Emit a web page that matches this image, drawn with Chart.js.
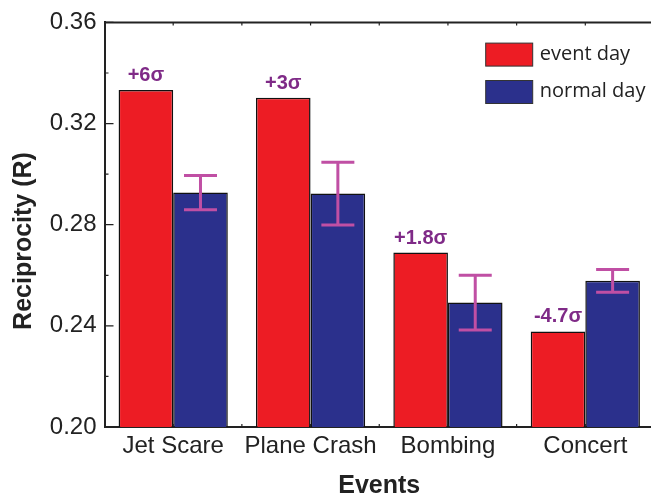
<!DOCTYPE html>
<html>
<head>
<meta charset="utf-8">
<script src="https://cdn.jsdelivr.net/npm/chart.js@4.4.0/dist/chart.umd.min.js"></script>
<style>
    html, body { margin: 0; padding: 0; background: #fff; overflow: hidden; }
    #wrap { width: 656px; height: 497px; }
</style>
</head>
<body>
<div id="wrap"><canvas id="reciprocity-chart"></canvas></div>
<script>
// data
const categories = ['Jet Scare', 'Plane Crash', 'Bombing', 'Concert'];
const eventDay = [0.3333, 0.3302, 0.2690, 0.2378];
const normalDay = [0.2927, 0.2923, 0.2492, 0.2578];
const normalErr = [0.0068, 0.0124, 0.0108, 0.0045];
const sigmaLabels = ['+6σ', '+3σ', '+1.8σ', '-4.7σ'];
const yMin = 0.20;
const yMax = 0.36;
const yStep = 0.04;

const AXIS_COLOR = '#222';

// error bars on the normal day bars
const errorBars = {
    id: 'errorBars',
    afterDatasetsDraw(chart) {
        const meta = chart.getDatasetMeta(1);
        const y = chart.scales.y;
        const ctx = chart.ctx;
        ctx.save();
        ctx.strokeStyle = '#C04FA4';
        ctx.lineWidth = 3;
        meta.data.forEach(function(bar, i) {
            const top = y.getPixelForValue(normalDay[i] + normalErr[i]);
            const bot = y.getPixelForValue(normalDay[i] - normalErr[i]);
            ctx.beginPath();
            ctx.moveTo(bar.x, top); ctx.lineTo(bar.x, bot);
            ctx.moveTo(bar.x - 16.5, top); ctx.lineTo(bar.x + 16.5, top);
            ctx.moveTo(bar.x - 16.5, bot); ctx.lineTo(bar.x + 16.5, bot);
            ctx.stroke();
        });
        ctx.restore();
    }
};

// sigma labels above the event day bars
const sigmaText = {
    id: 'sigmaText',
    afterDatasetsDraw(chart) {
        const meta = chart.getDatasetMeta(0);
        const ctx = chart.ctx;
        ctx.save();
        ctx.fillStyle = '#7F2A87';
        ctx.font = 'bold 20px "Liberation Sans", Arial, sans-serif';
        ctx.textAlign = 'center';
        ctx.textBaseline = 'alphabetic';
        meta.data.forEach(function(bar, i) {
            ctx.fillText(sigmaLabels[i], bar.x, bar.y - 9);
        });
        ctx.restore();
    }
};

// frame, inward ticks, legend and y title
const frame = {
    id: 'frame',
    afterDraw(chart) {
        const ctx = chart.ctx;
        const a = chart.chartArea;
        const x = chart.scales.x;
        const y = chart.scales.y;
        ctx.save();
        ctx.strokeStyle = AXIS_COLOR;
        ctx.lineWidth = 2;
        ctx.beginPath();
        ctx.moveTo(a.left, a.top); ctx.lineTo(a.right, a.top);
        ctx.stroke();

        ctx.lineWidth = 1.2;
        ctx.beginPath();
        y.ticks.forEach(function(t, i) {
            const py = y.getPixelForValue(t.value);
            ctx.moveTo(a.left, py); ctx.lineTo(a.left + 9, py);
            if (i < y.ticks.length - 1) {
                const my = y.getPixelForValue(t.value + yStep / 2);
                ctx.moveTo(a.left, my); ctx.lineTo(a.left + 4, my);
            }
        });
        const half = (x.getPixelForValue(1) - x.getPixelForValue(0)) / 2;
        categories.forEach(function(c, i) {
            const cx = x.getPixelForValue(i);
            [cx, cx + half].forEach(function(px) {
                ctx.moveTo(px, a.bottom); ctx.lineTo(px, a.bottom - 3);
                ctx.moveTo(px, a.top); ctx.lineTo(px, a.top + 3);
            });
        });
        ctx.stroke();

        // legend
        const bx = a.right - 168.3;
        ctx.font = '20px "Open Sans", sans-serif';
        ctx.textAlign = 'left';
        ctx.textBaseline = 'middle';
        chart.data.datasets.forEach(function(ds, i) {
            const by = a.top + 20.7 + i * 37.4;
            ctx.fillStyle = ds.backgroundColor;
            ctx.fillRect(bx, by, 47, 23);
            ctx.strokeStyle = '#333';
            ctx.lineWidth = 1;
            ctx.strokeRect(bx, by, 47, 23);
            ctx.fillStyle = '#222';
            ctx.fillText(ds.label, bx + 54, by + 11);
        });

        // y title
        ctx.translate(24, 241);
        ctx.rotate(-Math.PI / 2);
        ctx.font = 'bold 25px "Liberation Sans", Arial, sans-serif';
        ctx.textAlign = 'center';
        ctx.textBaseline = 'middle';
        ctx.fillStyle = '#222';
        ctx.fillText('Reciprocity (R)', 0, 0);
        ctx.restore();
    }
};

document.addEventListener('DOMContentLoaded', function() {
    const ctx = document.getElementById('reciprocity-chart');

    new Chart(ctx, {
        type: 'bar',
        data: {
            labels: categories,
            datasets: [
                {
                    label: 'event day',
                    data: eventDay,
                    backgroundColor: '#ED1C24',
                    borderColor: '#111',
                    borderWidth: 1.5,
                    categoryPercentage: 0.795,
                    barPercentage: 1.0
                },
                {
                    label: 'normal day',
                    data: normalDay,
                    backgroundColor: '#2B308C',
                    borderColor: '#111',
                    borderWidth: 1.5,
                    categoryPercentage: 0.795,
                    barPercentage: 1.0
                }
            ]
        },
        options: {
            responsive: true,
            maintainAspectRatio: false,
            animation: false,
            layout: {
                padding: { top: 21, right: 2, bottom: 0, left: 0 }
            },
            plugins: {
                legend: { display: false },
                tooltip: { enabled: false }
            },
            scales: {
                y: {
                    min: yMin,
                    max: yMax,
                    afterFit: function(scale) { scale.width = 104.5; },
                    grid: { display: false, drawTicks: false },
                    border: { display: true, color: AXIS_COLOR, width: 2 },
                    ticks: {
                        stepSize: yStep,
                        padding: 8,
                        color: '#222',
                        font: { family: '"Liberation Sans", Arial, sans-serif', size: 24 },
                        callback: function(v) { return v.toFixed(2); }
                    }
                },
                x: {
                    afterFit: function(scale) { scale.height = 70; },
                    grid: { display: false, drawTicks: false },
                    border: { display: true, color: AXIS_COLOR, width: 2 },
                    ticks: {
                        padding: 5,
                        color: '#222',
                        maxRotation: 0,
                        font: { family: '"Liberation Sans", Arial, sans-serif', size: 24 }
                    },
                    title: {
                        display: true,
                        text: 'Events',
                        color: '#222',
                        padding: { top: 0, bottom: 0 },
                        font: { family: '"Liberation Sans", Arial, sans-serif', size: 25, weight: 'bold', lineHeight: 0.9 }
                    }
                }
            }
        },
        plugins: [errorBars, sigmaText, frame]
    });
});
</script>
</body>
</html>
